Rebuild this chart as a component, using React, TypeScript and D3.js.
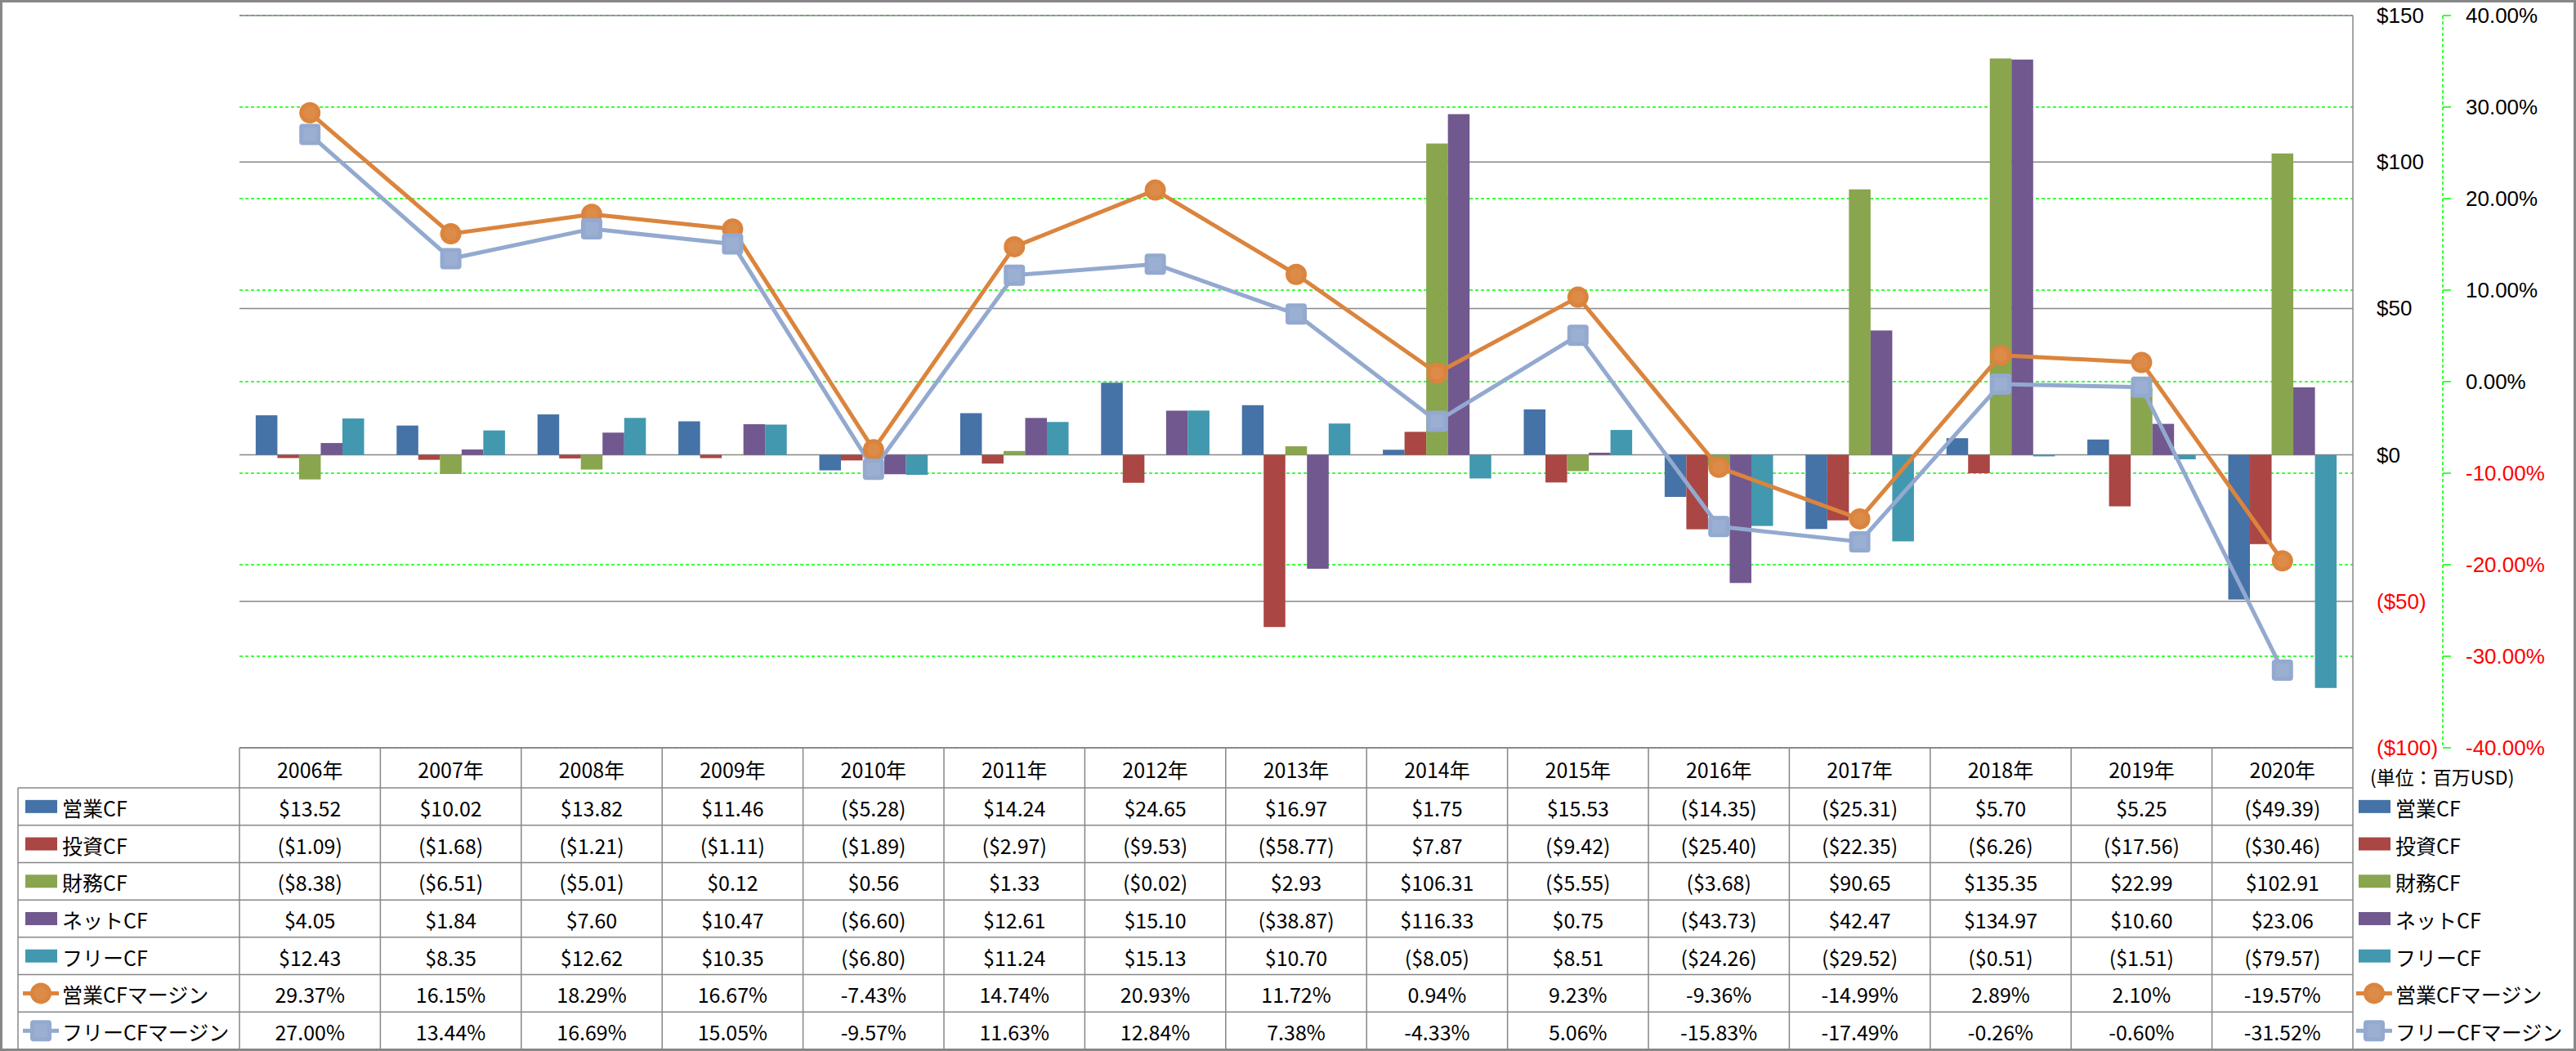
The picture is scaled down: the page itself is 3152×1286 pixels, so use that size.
import React from 'react';
import * as d3 from 'd3';

// values (millions USD / percent)
const years = ['2006年', '2007年', '2008年', '2009年', '2010年', '2011年', '2012年', '2013年', '2014年', '2015年', '2016年', '2017年', '2018年', '2019年', '2020年'];
const eigyoCF = [13.52, 10.02, 13.82, 11.46, -5.28, 14.24, 24.65, 16.97, 1.75, 15.53, -14.35, -25.31, 5.70, 5.25, -49.39];
const toushiCF = [-1.09, -1.68, -1.21, -1.11, -1.89, -2.97, -9.53, -58.77, 7.87, -9.42, -25.40, -22.35, -6.26, -17.56, -30.46];
const zaimuCF = [-8.38, -6.51, -5.01, 0.12, 0.56, 1.33, -0.02, 2.93, 106.31, -5.55, -3.68, 90.65, 135.35, 22.99, 102.91];
const netCF = [4.05, 1.84, 7.60, 10.47, -6.60, 12.61, 15.10, -38.87, 116.33, 0.75, -43.73, 42.47, 134.97, 10.60, 23.06];
const freeCF = [12.43, 8.35, 12.62, 10.35, -6.80, 11.24, 15.13, 10.70, -8.05, 8.51, -24.26, -29.52, -0.51, -1.51, -79.57];
const eigyoMargin = [29.37, 16.15, 18.29, 16.67, -7.43, 14.74, 20.93, 11.72, 0.94, 9.23, -9.36, -14.99, 2.89, 2.10, -19.57];
const freeMargin = [27.00, 13.44, 16.69, 15.05, -9.57, 11.63, 12.84, 7.38, -4.33, 5.06, -15.83, -17.49, -0.26, -0.60, -31.52];

const dollarTicks = [150, 100, 50, 0, -50, -100];
const pctTicks = [40, 30, 20, 10, 0, -10, -20, -30, -40];

const barSeries = [
  { name: '営業CF', values: eigyoCF, color: '#4572A7' },
  { name: '投資CF', values: toushiCF, color: '#AA4643' },
  { name: '財務CF', values: zaimuCF, color: '#89A54E' },
  { name: 'ネットCF', values: netCF, color: '#71588F' },
  { name: 'フリーCF', values: freeCF, color: '#4198AF' },
];
const lineSeries = [
  { name: '営業CFマージン', values: eigyoMargin, color: '#DB843D', marker: 'circle' },
  { name: 'フリーCFマージン', values: freeMargin, color: '#93A9CF', marker: 'square' },
];

const W = 3152;
const H = 1286;
const plot = { left: 293, right: 2879, top: 19, bottom: 915 };
const tableLeft = 22;
const headerBottom = 964;
const tableBottom = 1284;

const fmtDollar = (v: number) => (v < 0 ? `($${Math.abs(v).toFixed(2)})` : `$${v.toFixed(2)}`);
const fmtPct = (v: number) => `${v.toFixed(2)}%`;
const axisFont = '"Liberation Sans", Arial, sans-serif';
const tableFont = '"Noto Sans CJK JP", sans-serif';

const Marker = ({ kind, cx, cy, color }: { kind: string; cx: number; cy: number; color: string }) =>
  kind === 'circle' ? (
    <g>
      <circle cx={cx} cy={cy} r={13} fill={color} />
      <circle cx={cx} cy={cy} r={8} fill="#fff" opacity={0.06} />
    </g>
  ) : (
    <g>
      <rect x={cx - 13} y={cy - 13} width={26} height={26} rx={4} fill={color} />
      <rect x={cx - 8} y={cy - 8} width={16} height={16} fill="#fff" opacity={0.08} />
    </g>
  );

export default function App() {
  const x = d3.scaleBand<string>().domain(years).range([plot.left, plot.right]);
  const bw = x.bandwidth();
  const gap = (bw * 0.75) / 6.5;
  const xs = d3.scaleBand<string>().domain(barSeries.map(s => s.name)).range([gap, bw - gap]);
  const y = d3.scaleLinear().domain([-100, 150]).range([plot.bottom, plot.top]);
  const y2 = d3.scaleLinear().domain([-40, 40]).range([plot.bottom, plot.top]);
  const cx = (i: number) => (x(years[i]) as number) + bw / 2;

  const line = d3.line<number>().x((_, i) => cx(i)).y(d => y2(d));

  const rows = [
    ...barSeries.map(s => ({ ...s, kind: 'bar', fmt: fmtDollar })),
    ...lineSeries.map(s => ({ ...s, kind: s.marker, fmt: fmtPct })),
  ];
  const rowH = (tableBottom - headerBottom) / rows.length;
  const rowY = (r: number) => headerBottom + rowH * r;

  const axisX = 2989;

  return (
    <svg width={W} height={H} style={{ position: 'absolute', left: 0, top: 0, background: '#fff' }}>
      <rect x={0} y={0} width={W} height={H} fill="#fff" />

      {/* secondary (percent) gridlines */}
      {pctTicks.map(t => (
        <line key={'pg' + t} x1={plot.left} x2={plot.right} y1={y2(t)} y2={y2(t)} stroke="#00FF00" strokeWidth={1.5} strokeDasharray="4,3" />
      ))}
      {/* primary gridlines */}
      {dollarTicks.map(t => (
        <line key={'dg' + t} x1={plot.left} x2={plot.right} y1={y(t)} y2={y(t)} stroke="#878787" strokeWidth={1.5} />
      ))}

      {/* bars */}
      {barSeries.map(s => (
        <g key={s.name} fill={s.color}>
          {s.values.map((v, i) => (
            <rect key={i} x={(x(years[i]) as number) + (xs(s.name) as number)} width={xs.bandwidth()} y={Math.min(y(v), y(0))} height={Math.abs(y(v) - y(0))} />
          ))}
        </g>
      ))}

      {/* lines */}
      {lineSeries.map(s => (
        <path key={s.name} d={line(s.values) as string} fill="none" stroke={s.color} strokeWidth={5} strokeLinejoin="round" />
      ))}
      {lineSeries.map(s => (
        <g key={s.name + 'm'}>
          {s.values.map((v, i) => (
            <Marker key={i} kind={s.marker} cx={cx(i)} cy={y2(v)} color={s.color} />
          ))}
        </g>
      ))}

      {/* primary axis on the right */}
      <line x1={plot.right} x2={plot.right} y1={plot.top} y2={plot.bottom} stroke="#878787" strokeWidth={1.5} />
      {dollarTicks.map(t => (
        <text key={'dl' + t} x={2908} y={y(t)} dominantBaseline="central" fontFamily={axisFont} fontSize={26} fill={t < 0 ? '#FF0000' : '#000'}>
          {t < 0 ? `($${Math.abs(t)})` : `$${t}`}
        </text>
      ))}

      {/* secondary axis */}
      <line x1={axisX} x2={axisX} y1={plot.top} y2={plot.bottom} stroke="#00FF00" strokeWidth={1.5} strokeDasharray="4,3" />
      {pctTicks.map(t => (
        <g key={'pl' + t}>
          <line x1={axisX} x2={axisX + 10} y1={y2(t)} y2={y2(t)} stroke="#00FF00" strokeWidth={1.5} />
          <text x={3017} y={y2(t)} dominantBaseline="central" fontFamily={axisFont} fontSize={26} fill={t < 0 ? '#FF0000' : '#000'}>
            {`${t.toFixed(2)}%`}
          </text>
        </g>
      ))}

      {/* data table */}
      <g stroke="#878787" strokeWidth={1.5}>
        <line x1={plot.left} x2={plot.right} y1={plot.bottom} y2={plot.bottom} />
        {rows.map((_, r) => (
          <line key={'h' + r} x1={tableLeft} x2={plot.right} y1={rowY(r)} y2={rowY(r)} />
        ))}
        <line x1={tableLeft} x2={tableLeft} y1={headerBottom} y2={tableBottom} />
        {years.map((yr, i) => (
          <line key={'v' + i} x1={x(yr) as number} x2={x(yr) as number} y1={plot.bottom} y2={tableBottom} />
        ))}
        <line x1={plot.right} x2={plot.right} y1={plot.bottom} y2={tableBottom} />
      </g>
      {years.map((yr, i) => (
        <text key={'yr' + i} x={cx(i)} y={(plot.bottom + headerBottom) / 2 + 1} textAnchor="middle" dominantBaseline="central" fontFamily={tableFont} fontSize={25} fill="#000">
          {yr}
        </text>
      ))}
      {rows.map((r, ri) => (
        <g key={'row' + ri}>
          {r.values.map((v, i) => (
            <text key={i} x={cx(i)} y={rowY(ri) + rowH / 2 + 1} textAnchor="middle" dominantBaseline="central" fontFamily={tableFont} fontSize={25} fill="#000">
              {r.fmt(v)}
            </text>
          ))}
        </g>
      ))}

      {/* legend keys: in the table and to the right */}
      {[{ x0: 31, tx: 76 }, { x0: 2886, tx: 2931 }].map((L, li) => (
        <g key={'leg' + li}>
          {rows.map((r, ri) => {
            const cy = rowY(ri) + rowH / 2;
            return (
              <g key={ri}>
                {r.kind === 'bar' ? (
                  <rect x={L.x0} y={cy - 8} width={39} height={16} fill={r.color} />
                ) : (
                  <g>
                    <line x1={L.x0 - 3} x2={L.x0 + 41} y1={cy} y2={cy} stroke={r.color} strokeWidth={5} />
                    <Marker kind={r.kind} cx={L.x0 + 19} cy={cy} color={r.color} />
                  </g>
                )}
                <text x={L.tx} y={cy + 1} dominantBaseline="central" fontFamily={tableFont} fontSize={25} fill="#000">
                  {r.name}
                </text>
              </g>
            );
          })}
        </g>
      ))}
      <text x={2900} y={950} dominantBaseline="central" fontFamily={tableFont} fontSize={23} fill="#000">
        (単位：百万USD)
      </text>

      {/* outer frame */}
      <rect x={1.5} y={1.5} width={W - 3} height={H - 3} fill="none" stroke="#878787" strokeWidth={3} />
    </svg>
  );
}
